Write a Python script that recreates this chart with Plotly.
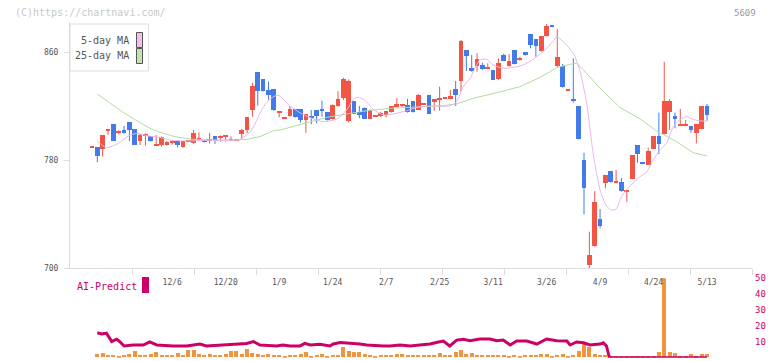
import plotly.graph_objects as go

# ---------------- data ----------------
opens = [789.4, 789.1, 788.1, 801.9, 806.7, 800.2, 802.0, 808.2, 803.0, 794.1,
         797.8, 797.3, 790.6, 791.1, 791.1, 792.1, 794.1, 789.1, 793.5, 792.1,
         794.6, 794.8, 794.4, 797.8, 796.5, 797.2, 794.1, 794.3, 799.3, 801.7,
         816.5, 844.7, 840.0, 831.9, 832.6, 814.6, 810.6, 812.1, 817.8, 817.8,
         809.1, 812.6, 817.0, 817.8, 815.5, 810.1, 819.5, 826.0, 808.9, 823.2,
         815.1, 818.5, 810.4, 812.1, 812.1, 813.3, 815.1, 819.0, 820.3, 820.7,
         823.2, 817.0, 820.7, 828.2, 822.5, 824.6, 825.6, 824.9, 832.6, 838.0,
         861.5, 848.1, 849.1, 849.9, 847.7, 846.7, 840.0, 857.8, 849.1, 861.5,
         854.1, 860.0, 873.1, 869.6, 860.2, 871.4, 880.0, 849.1, 849.6, 831.4,
         825.2, 820.0, 780.0, 701.7, 715.8, 736.3, 762.7, 771.8, 763.2, 763.4,
         756.6, 765.9, 791.1, 778.3, 776.3, 788.1, 797.8, 799.0, 815.1, 812.6,
         805.2, 805.0, 805.2, 799.8, 802.7, 820.0]
highs = [789.8, 789.5, 798.5, 802.9, 806.7, 802.0, 805.4, 808.2, 803.0, 799.5,
         799.8, 797.3, 798.5, 797.5, 794.1, 794.5, 794.1, 794.1, 794.5, 802.2,
         800.5, 794.8, 800.2, 797.8, 798.3, 797.8, 797.5, 795.5, 803.0, 811.6,
         837.3, 844.7, 840.0, 838.0, 832.6, 815.3, 811.0, 820.0, 817.8, 817.8,
         814.1, 817.0, 817.0, 823.9, 815.5, 821.2, 831.0, 841.0, 839.7, 823.2,
         820.0, 819.0, 817.5, 812.8, 815.8, 815.8, 820.0, 825.9, 821.5, 825.2,
         823.2, 828.9, 821.2, 828.2, 825.2, 834.3, 826.1, 831.9, 838.5, 868.9,
         861.5, 857.8, 859.0, 852.1, 851.6, 846.7, 855.3, 858.8, 858.3, 861.5,
         856.5, 860.0, 873.1, 869.6, 871.4, 880.7, 880.0, 877.0, 851.1, 832.6,
         855.3, 820.0, 785.4, 726.9, 757.0, 743.7, 768.9, 771.8, 772.6, 766.7,
         757.0, 783.7, 791.1, 778.3, 789.1, 797.8, 815.1, 852.8, 825.2, 815.1,
         817.8, 809.6, 805.2, 806.7, 820.0, 821.5]
lows = [789.4, 778.3, 782.4, 798.5, 794.1, 799.0, 799.5, 794.1, 791.1, 791.1,
        790.6, 793.6, 790.6, 790.0, 790.5, 791.5, 789.4, 789.1, 793.3, 792.1,
        794.6, 793.0, 792.1, 791.9, 793.6, 793.6, 794.1, 794.3, 795.3, 799.8,
        812.1, 820.2, 830.6, 824.4, 816.3, 811.6, 810.6, 812.1, 811.4, 807.7,
        800.2, 806.4, 807.2, 812.1, 809.1, 810.1, 819.5, 824.4, 807.9, 814.1,
        810.9, 810.4, 810.4, 812.1, 811.6, 811.6, 815.1, 819.0, 819.0, 815.1,
        815.1, 817.0, 820.7, 814.1, 816.5, 816.5, 825.6, 824.9, 820.0, 830.6,
        845.9, 845.4, 845.4, 846.7, 847.4, 839.3, 839.3, 853.3, 849.1, 850.9,
        853.5, 857.3, 862.7, 856.5, 860.2, 871.4, 878.3, 849.1, 833.6, 831.4,
        822.5, 795.3, 739.8, 699.8, 715.8, 729.4, 759.0, 763.2, 762.7, 756.5,
        749.1, 765.9, 778.0, 776.8, 776.3, 788.1, 784.4, 799.0, 802.2, 803.5,
        805.2, 805.0, 800.2, 792.3, 802.7, 809.1]
closes = [789.8, 782.5, 798.5, 802.9, 794.1, 800.8, 799.5, 801.7, 791.1, 798.5,
          798.3, 793.6, 791.6, 796.8, 792.8, 794.1, 791.1, 794.1, 794.3, 799.8,
          796.1, 793.6, 794.8, 794.5, 797.5, 797.6, 795.3, 795.5, 802.2, 811.6,
          834.3, 830.6, 830.6, 827.7, 817.0, 815.1, 811.0, 817.8, 811.4, 809.1,
          814.1, 811.4, 812.1, 816.5, 809.1, 820.2, 825.2, 840.0, 838.0, 814.1,
          813.3, 810.4, 817.0, 812.6, 814.6, 815.8, 820.0, 821.5, 820.8, 815.1,
          815.1, 828.2, 821.2, 814.1, 825.2, 825.1, 826.1, 826.9, 828.2, 867.7,
          857.0, 845.4, 854.8, 847.4, 848.1, 839.3, 851.6, 853.3, 852.8, 850.9,
          855.6, 857.3, 865.2, 863.9, 871.4, 878.8, 878.3, 855.8, 833.6, 832.6,
          823.2, 795.3, 759.0, 709.6, 748.4, 730.6, 768.9, 763.2, 763.6, 756.5,
          757.0, 783.7, 784.4, 776.8, 786.2, 797.8, 791.9, 823.7, 823.2, 810.4,
          805.6, 805.4, 801.7, 806.7, 820.0, 813.3]

# 5-day / 25-day moving averages as drawn (position in trading days, value)
ma5_idx = [1, 2.7, 4.9, 6.8, 8.4, 10.5, 12.7, 14.6, 17.7, 22, 27, 28, 29.9, 31.4, 33,
           34.8, 37, 38.9, 40.8, 43.2, 45.8, 47.6, 48.9, 49.8, 51, 52.6, 54.5, 56.3,
           58.8, 61.3, 64.5, 66.9, 68.2, 69.4, 70.7, 72.5, 73.8, 75, 76.9, 78.8, 80.6,
           82.5, 84.3, 86.2, 86.9, 88.1, 90, 91.2, 92.5, 93.7, 95, 96.2, 97.1, 98, 99,
           99.9, 102.5, 103.7, 104.9, 106.2, 107.4, 108.7, 110, 111.2, 112.4, 113.7, 115]
ma5_val = [794.1, 789.1, 792.3, 797.8, 799.8, 797.8, 796.8, 794.8, 794.1, 794.6, 794.6,
           796.0, 802.2, 814.6, 824.4, 828.1, 820.0, 815.0, 811.4, 808.4, 810.4, 817.0,
           824.9, 826.4, 824.4, 817.5, 813.3, 814.1, 816.5, 819.5, 820.0, 820.0, 823.2,
           834.3, 840.5, 854.1, 854.6, 850.4, 847.9, 848.6, 850.4, 854.6, 860.2, 867.7,
           871.4, 867.7, 859.0, 846.7, 822.0, 785.0, 757.8, 745.9, 743.0, 743.5, 752.8,
           757.8, 767.7, 770.9, 780.0, 787.4, 792.3, 804.7, 810.1, 812.1, 810.1, 808.9,
           808.9]
ma25_idx = [1, 2.7, 5.2, 7.1, 9, 10.8, 12.7, 15.5, 18.9, 22, 26.4, 29, 31.4, 33.9, 35.2,
            37.6, 43.9, 47.6, 51.4, 55.7, 60, 65, 68.2, 71.3, 75.7, 80, 83.8, 86.9, 89.4,
            90.6, 91.9, 95, 98.7, 102.5, 105.6, 109.3, 112.4, 115]
ma25_val = [828.9, 823.9, 817.0, 812.1, 807.6, 803.5, 800.5, 797.3, 795.3, 794.8, 794.8,
            795.3, 797.3, 801.7, 802.2, 804.7, 811.6, 814.1, 816.5, 818.3, 819.0, 820.0,
            821.5, 825.7, 829.9, 834.3, 841.2, 848.4, 850.9, 851.6, 846.7, 833.1, 819.0,
            810.4, 801.5, 793.6, 785.4, 783.0]

# AI-Predict panel
ai_idx = [1, 1.8, 2.7, 3.7, 4.6, 5.2, 6, 7.7, 9.6, 10.8, 12.1, 15.2, 17.7, 20.2, 21.4,
          25.2, 28.9, 30.2, 31.4, 34.5, 35.7, 37, 38.9, 39.8, 40.8, 42.6, 44.5, 45.1,
          46.4, 50.1, 51.4, 54.5, 55.7, 57.6, 59.5, 61.3, 63.2, 64.8, 65.7, 66.9, 68.2,
          69.4, 70.7, 72.5, 74.4, 75.7, 76.9, 78.2, 79.4, 81.3, 83.2, 85, 86.9, 88.8,
          89.4, 90.6, 91.9, 93.1, 95, 95.6, 96.2, 96.7, 97.1, 115]
ai_val = [15.7, 14.9, 15.4, 10.1, 11.6, 10.1, 7.4, 8.0, 8.0, 9.9, 8.0, 7.4, 7.4, 8.6, 7.4,
          8.0, 9.0, 10.1, 8.0, 7.4, 8.0, 7.4, 7.4, 9.0, 8.0, 8.4, 7.4, 8.6, 9.5, 8.6, 8.0,
          7.4, 7.4, 8.0, 7.4, 8.0, 8.6, 9.9, 10.5, 7.4, 11.1, 11.6, 10.7, 11.8, 11.8, 10.7,
          11.1, 8.0, 10.5, 10.5, 8.6, 11.8, 10.7, 10.5, 8.0, 9.9, 9.4, 8.0, 8.6, 9.4, 7.4,
          0.6, 0, 0]
vol_val = [2.1, 2.7, 1.5, 1.5, 0.6, 1.5, 2.1, 3.8, 1.5, 1.5,
           2.1, 3.2, 1.5, 1.5, 1.5, 2.7, 1.7, 4.6, 4.6, 2.1,
           1.5, 2.1, 1.5, 1.5, 2.1, 4.0, 4.0, 2.1, 5.3, 2.7,
           2.1, 1.5, 2.1, 1.5, 1.5, 0.6, 1.5, 1.5, 2.1, 3.4,
           0.6, 1.5, 2.1, 0.6, 1.5, 1.5, 6.3, 3.8, 3.4, 3.4,
           2.1, 1.5, 0.6, 1.5, 1.5, 1.5, 2.1,
           2.1, 1.5, 1.5, 1.5, 1.5, 1.5, 1.5, 2.7, 1.5, 1.5,
           3.4, 4.6, 2.1, 2.7, 1.5, 1.5, 1.5, 1.5, 1.5, 1.5,
           0.6, 1.5, 0.6, 1.5, 1.5, 1.5, 2.1, 2.1, 0.6, 1.5,
           2.1, 0.6, 1.5, 3.8, 8.4, 6.3, 2.1, 1.5, 1.5, 1.0,
           0.8, 0.8, 0.8, 0.8, 0.8, 0.8, 0.8, 0.8, 3.2, 50,
           3.2, 2.7, 0.8, 0.8, 2.1, 0.8, 2.1, 2.1]

date_idx = [15, 25, 35, 45, 55, 65, 75, 85, 95, 105, 115]
date_labels = ["12/6", "12/20", "1/9", "1/24", "2/7", "2/25", "3/11", "3/26", "4/9", "4/24", "5/13"]
price_ticks = [700, 780, 860]
ai_ticks = [0, 10, 20, 30, 40, 50]

# ---------------- styling ----------------
W, H = 772, 361
RED, BLUE = "#f15545", "#437be9"
MONO = "DejaVu Sans Mono"
X_RANGE = [-4.11, 123.41]
PLOT_L, PLOT_R = 70, 752


def px_x(p):
    return p / W


def px_y(p):
    return 1 - p / H


n = len(opens)
idx = list(range(n))
up = [c >= o for o, c in zip(opens, closes)]

fig = go.Figure()

# wicks
for flag, col in ((True, RED), (False, BLUE)):
    wx, wy = [], []
    for i in idx:
        if up[i] == flag:
            wx += [i, i, None]
            wy += [lows[i], highs[i], None]
    fig.add_trace(go.Scatter(x=wx, y=wy, mode="lines", line=dict(color=col, width=1),
                             hoverinfo="skip", showlegend=False))

# bodies
base = [min(o, c) for o, c in zip(opens, closes)]
height = [max(abs(c - o), 0.8) for o, c in zip(opens, closes)]
fig.add_trace(go.Bar(x=idx, y=height, base=base, width=0.88,
                     marker=dict(color=[RED if u else BLUE for u in up], line=dict(width=0)),
                     showlegend=False, hoverinfo="skip"))

# moving averages
fig.add_trace(go.Scatter(x=ma25_idx, y=ma25_val, mode="lines",
                         line=dict(color="#b3dba0", width=1), showlegend=False, hoverinfo="skip"))
fig.add_trace(go.Scatter(x=ma5_idx, y=ma5_val, mode="lines",
                         line=dict(color="#e9b5ea", width=1, shape="spline", smoothing=0.6),
                         showlegend=False, hoverinfo="skip"))

# lower panel
fig.add_trace(go.Bar(x=list(range(1, len(vol_val) + 1)), y=vol_val, width=0.75,
                     marker=dict(color="#f0953e", line=dict(width=0)),
                     xaxis="x2", yaxis="y2", showlegend=False, hoverinfo="skip"))
fig.add_trace(go.Scatter(x=ai_idx, y=ai_val, mode="lines",
                         line=dict(color="#cc0066", width=3),
                         xaxis="x2", yaxis="y2", showlegend=False, hoverinfo="skip"))

# x ticks: plot width split into 11 equal parts
step = (X_RANGE[1] - X_RANGE[0]) / 11
grid_ticks = [X_RANGE[0] + step * k for k in range(1, 12)]

fig.update_layout(
    width=W, height=H,
    margin=dict(l=0, r=0, t=0, b=0, pad=0, autoexpand=False),
    paper_bgcolor="white", plot_bgcolor="white",
    bargap=0, barmode="overlay",
    xaxis=dict(domain=[px_x(PLOT_L), px_x(PLOT_R)], range=X_RANGE, automargin=False,
               showgrid=False, zeroline=False, showline=True, linecolor="#dddddd",
               linewidth=1, ticks="outside", ticklen=6, tickcolor="#dddddd",
               tickvals=grid_ticks, showticklabels=False, fixedrange=True),
    yaxis=dict(domain=[px_y(268), px_y(22.3)], range=[700, 882], automargin=False,
               showgrid=False, zeroline=False, showline=True, linecolor="#dddddd",
               linewidth=1, ticks="outside", ticklen=5, tickcolor="#dddddd",
               tickvals=price_ticks, ticklabelstandoff=4,
               tickfont=dict(family=MONO, size=8, color="#555555"), fixedrange=True),
    xaxis2=dict(domain=[px_x(PLOT_L), px_x(PLOT_R)], range=X_RANGE, automargin=False,
                anchor="free", position=px_y(275.5),
                showgrid=False, zeroline=False, showline=False, ticks="",
                tickvals=date_idx, ticktext=date_labels,
                tickfont=dict(family=MONO, size=8, color="#555555"), fixedrange=True),
    yaxis2=dict(domain=[px_y(357.7), px_y(278.3)], range=[0, 50], anchor="x2",
                automargin=False,
                side="right", showgrid=False, zeroline=False, showline=False, ticks="",
                tickvals=ai_ticks, ticklabelstandoff=2,
                tickfont=dict(family=MONO, size=9, color="#cc0066"), fixedrange=True),
)

# header texts
fig.add_annotation(x=px_x(13), y=px_y(12.5), xref="paper", yref="paper",
                   text="(C)https://chartnavi.com/", showarrow=False,
                   xanchor="left", yanchor="middle",
                   font=dict(family=MONO, size=10, color="#c8c8c8"))
fig.add_annotation(x=px_x(758), y=px_y(12.5), xref="paper", yref="paper",
                   text="5609", showarrow=False, xanchor="right", yanchor="middle",
                   font=dict(family=MONO, size=9, color="#999999"))

# legend box
fig.add_shape(type="rect", xref="paper", yref="paper",
              x0=px_x(70), x1=px_x(148.5), y0=px_y(71), y1=px_y(24),
              fillcolor="white", line=dict(color="#dddddd", width=1))
for text, yc, fill in (("5-day MA", 40, "#f0c0f0"), ("25-day MA", 56, "#c2e3b4")):
    fig.add_annotation(x=px_x(131), y=px_y(yc), xref="paper", yref="paper",
                       text=text, showarrow=False, xanchor="right", yanchor="middle",
                       font=dict(family=MONO, size=10, color="#555555"))
    fig.add_shape(type="rect", xref="paper", yref="paper",
                  x0=px_x(136.5), x1=px_x(142.5), y0=px_y(yc + 7.5), y1=px_y(yc - 7.5),
                  fillcolor=fill, line=dict(color="#555555", width=1))

# AI-Predict label
fig.add_annotation(x=px_x(75), y=px_y(286), xref="paper", yref="paper",
                   text="AI-Predict", showarrow=False, xanchor="left", yanchor="middle",
                   font=dict(family=MONO, size=10, color="#cc0066"))
fig.add_shape(type="rect", xref="paper", yref="paper",
              x0=px_x(142), x1=px_x(149), y0=px_y(293), y1=px_y(277),
              fillcolor="#cc0066", line=dict(width=0))

fig.write_html(
    "out.html",
    config={"displayModeBar": False},
    post_script="document.body.style.margin='0';document.body.style.padding='0';"
                "document.body.style.overflow='hidden';",
)
